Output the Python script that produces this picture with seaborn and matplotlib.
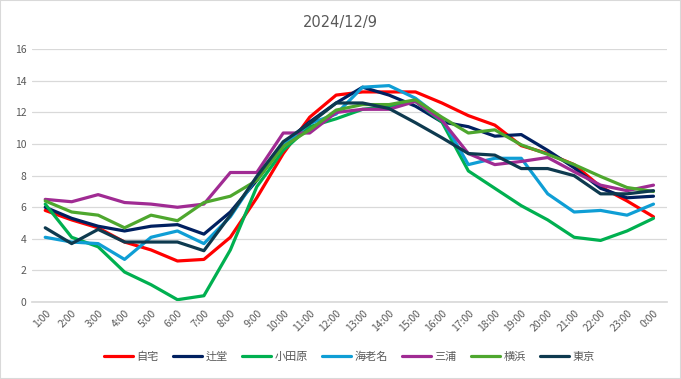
import pandas as pd
import seaborn as sns
import matplotlib.pyplot as plt

hours = ["1:00", "2:00", "3:00", "4:00", "5:00", "6:00", "7:00", "8:00", "9:00", "10:00",
         "11:00", "12:00", "13:00", "14:00", "15:00", "16:00", "17:00", "18:00", "19:00",
         "20:00", "21:00", "22:00", "23:00", "0:00"]

jitaku = [5.8, 5.2, 4.7, 3.8, 3.3, 2.6, 2.7, 4.1, 6.6, 9.4, 11.7, 13.1,
          13.3, 13.3, 13.3, 12.6, 11.8, 11.2, 9.9, 9.4, 8.7, 7.3, 6.4, 5.4]
tsujido = [6.0, 5.3, 4.8, 4.5, 4.8, 4.9, 4.3, 5.7, 7.7, 10.0, 11.4, 12.6,
           13.6, 13.1, 12.4, 11.4, 11.1, 10.5, 10.6, 9.6, 8.5, 7.2, 6.6, 6.7]
odawara = [6.2, 4.1, 3.5, 1.9, 1.1, 0.15, 0.4, 3.3, 7.3, 9.6, 11.1, 11.6,
           12.2, 12.4, 12.7, 11.4, 8.3, 7.2, 6.1, 5.2, 4.1, 3.9, 4.5, 5.3]
ebina = [4.1, 3.8, 3.7, 2.7, 4.1, 4.5, 3.7, 5.4, 7.9, 9.95, 11.3, 11.9,
         13.6, 13.7, 12.9, 11.6, 8.7, 9.1, 9.1, 6.85, 5.7, 5.8, 5.5, 6.2]
miura = [6.5, 6.35, 6.8, 6.3, 6.2, 6.0, 6.2, 8.2, 8.2, 10.7, 10.7, 12.0,
         12.2, 12.2, 12.7, 11.5, 9.4, 8.7, 8.9, 9.15, 8.25, 7.4, 7.05, 7.4]
yokohama = [6.4, 5.7, 5.5, 4.7, 5.5, 5.15, 6.3, 6.7, 7.7, 9.85, 10.9, 12.15,
            12.5, 12.5, 12.8, 11.7, 10.7, 10.9, 9.95, 9.35, 8.7, 7.95, 7.25, 7.0]
tokyo = [4.7, 3.7, 4.6, 3.8, 3.8, 3.8, 3.25, 5.5, 7.95, 10.15, 11.3, 12.6,
         12.6, 12.25, 11.35, 10.4, 9.4, 9.3, 8.45, 8.45, 8.0, 6.85, 6.85, 7.05]

series = {"自宅": jitaku, "辻堂": tsujido, "小田原": odawara, "海老名": ebina,
          "三浦": miura, "横浜": yokohama, "東京": tokyo}
colors = ["#FF0000", "#002060", "#00B050", "#0F9ED5", "#A02B93", "#4EA72E", "#0E3A4F"]

rows = []
for name, vals in series.items():
    for i, v in enumerate(vals):
        rows.append({"idx": i, "temp": v, "地点": name})
df = pd.DataFrame(rows)

sns.set_theme(style="white")
plt.rcParams["font.family"] = ["Noto Sans CJK JP", "DejaVu Sans"]

fig = plt.figure(figsize=(6.81, 3.79), dpi=100)
ax = fig.add_axes([0.047, 0.203, 0.932, 0.667])

sns.lineplot(data=df, x="idx", y="temp", hue="地点", palette=colors,
             linewidth=2.3, ax=ax, sort=False)

ax.set_xlim(-0.5, 23.5)
ax.set_ylim(0, 16)
ax.set_yticks(range(0, 17, 2))
ax.set_xticks(range(len(hours)))
ax.set_xticklabels(hours, rotation=45, ha="right", rotation_mode="anchor")
ax.tick_params(axis="both", labelsize=7.5, colors="#595959", length=0, pad=4)
ax.grid(axis="y", color="#D9D9D9", linewidth=0.9)
ax.set_axisbelow(True)
for s in ["left", "right", "top"]:
    ax.spines[s].set_visible(False)
ax.spines["bottom"].set_color("#D9D9D9")
ax.set_xlabel("")
ax.set_ylabel("")

ax.legend(loc="center", bbox_to_anchor=(0.5, -0.217), ncol=7, frameon=False,
          fontsize=8, labelcolor="#595959", handlelength=2.6, handletextpad=0.3,
          columnspacing=1.3)

fig.text(0.5, 0.94, "2024/12/9", ha="center", va="center", fontsize=10.5,
         color="#595959", family="DejaVu Sans")

fig.patches.append(plt.Rectangle((0, 0), 1, 1, transform=fig.transFigure,
                                 fill=False, edgecolor="#D9D9D9", linewidth=1.5))

fig.savefig("out.png", dpi=100)
